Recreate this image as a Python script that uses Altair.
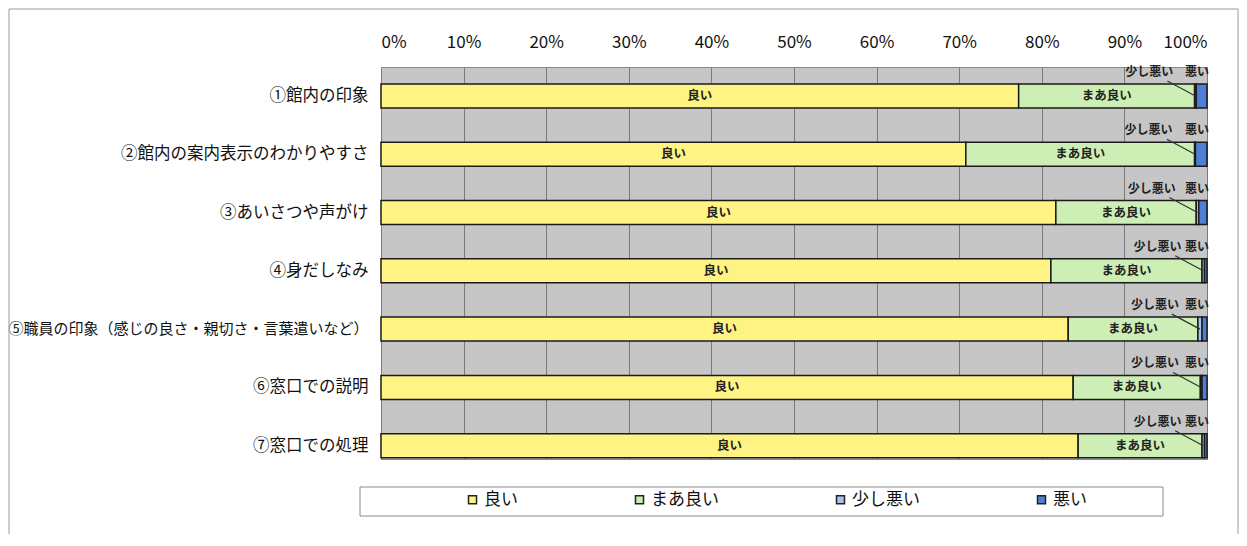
import altair as alt
import pandas as pd

categories = [
    "①館内の印象",
    "②館内の案内表示のわかりやすさ",
    "③あいさつや声がけ",
    "④身だしなみ",
    "⑤職員の印象（感じの良さ・親切さ・言葉遣いなど）",
    "⑥窓口での説明",
    "⑦窓口での処理",
]
levels = ["良い", "まあ良い", "少し悪い", "悪い"]
good = [77.2, 70.8, 81.7, 81.1, 83.2, 83.8, 84.4]
fair = [21.3, 27.7, 17.0, 18.3, 15.7, 15.4, 15.0]
slightly_bad = [0.2, 0.1, 0.3, 0.3, 0.5, 0.2, 0.3]
bad = [1.3, 1.4, 1.0, 0.3, 0.6, 0.6, 0.3]
colors = ["#FFF383", "#CDEFB5", "#A9C3EE", "#4E7FD6"]
tick_values = list(range(0, 101, 10))

FONT = "Noto Sans CJK JP"

rows = []
for i, c in enumerate(categories):
    start = 0.0
    for lvl, vals in zip(levels, [good, fair, slightly_bad, bad]):
        v = vals[i]
        rows.append(dict(cat=c, level=lvl, start=start, end=start + v,
                         mid=start + v / 2, lead=start + v / 2 - 3.4))
        start += v
df = pd.DataFrame(rows)

y_enc = alt.Y(
    "cat:N",
    sort=categories,
    scale=alt.Scale(paddingInner=0.588, paddingOuter=0.156, align=0.93),
    axis=alt.Axis(title=None, labelFont=FONT,
                  labelFontSize={"condition": {"test": "length(datum.label) > 20", "value": 15},
                                 "value": 16.5},
                  labelColor="#111",
                  ticks=False, domain=False, labelPadding=13, labelLimit=400),
)
x_enc = alt.X(
    "start:Q",
    scale=alt.Scale(domain=[0, 100], nice=False),
    axis=alt.Axis(orient="top", values=tick_values, labelExpr="datum.value + '%'",
                  title=None, domain=False, ticks=False, grid=True,
                  gridColor="#7a7a7a", gridWidth=1, gridOpacity=1,
                  labelFont=FONT, labelFontSize=17, labelColor="#111",
                  labelPadding=16),
)

frame = alt.Chart(pd.DataFrame({"a": [0]})).mark_rect(
    fill="transparent", stroke="#9a9a9a", strokeWidth=1
).encode(x=alt.value(-372), x2=alt.value(857), y=alt.value(-58), y2=alt.value(470))

legend_box = alt.Chart(pd.DataFrame({"a": [0]})).mark_rect(
    fill="white", stroke="#8a8a8a", strokeWidth=1
).encode(x=alt.value(-21), x2=alt.value(782), y=alt.value(420), y2=alt.value(449))

bars = alt.Chart(df).mark_bar(size=24, stroke="#1a1a1a", strokeWidth=1.5).encode(
    x=x_enc,
    x2="end:Q",
    y=y_enc,
    color=alt.Color(
        "level:N",
        scale=alt.Scale(domain=levels, range=colors),
        legend=alt.Legend(
            orient="none", legendX=83, legendY=424, direction="horizontal",
            title=None, symbolType="square", symbolSize=64,
            symbolStrokeColor="#222", symbolStrokeWidth=1.5,
            labelFont=FONT, labelFontSize=17, labelColor="#111",
            columnPadding=113, padding=0, labelOffset=3,
        ),
    ),
)

inner = alt.Chart(df[df["level"].isin(["良い", "まあ良い"])]).mark_text(
    font=FONT, fontSize=12.5, fontWeight="bold", color="#222"
).encode(x="mid:Q", y=alt.Y("cat:N", sort=categories), text="level:N")

small_df = df[df["level"] == "少し悪い"]

leaders = alt.Chart(small_df).mark_rule(
    color="#333", strokeWidth=1.2, y2Offset=-15
).encode(x="mid:Q", x2="lead:Q", y=alt.Y("cat:N", sort=categories), y2="cat:N")

small1 = alt.Chart(small_df).mark_text(
    font=FONT, fontSize=12, fontWeight="bold", color="#222", align="right", dx=-23, dy=-24
).encode(x="end:Q", y=alt.Y("cat:N", sort=categories), text="level:N")

small2 = alt.Chart(df[df["level"] == "悪い"]).mark_text(
    font=FONT, fontSize=12, fontWeight="bold", color="#222", align="right", dx=2, dy=-24
).encode(x="end:Q", y=alt.Y("cat:N", sort=categories), text="level:N")

chart = alt.layer(frame, legend_box, bars, inner, leaders, small1, small2).properties(
    width=826, height=392,
    autosize=alt.AutoSizeParams(type="none"),
    padding={"left": 373, "top": 59, "right": 32, "bottom": 75},
    background="white",
).configure_view(fill="#C6C6C6", stroke="#8a8a8a", strokeWidth=1)

chart.save("out.html", embed_options={"renderer": "svg", "actions": False})
